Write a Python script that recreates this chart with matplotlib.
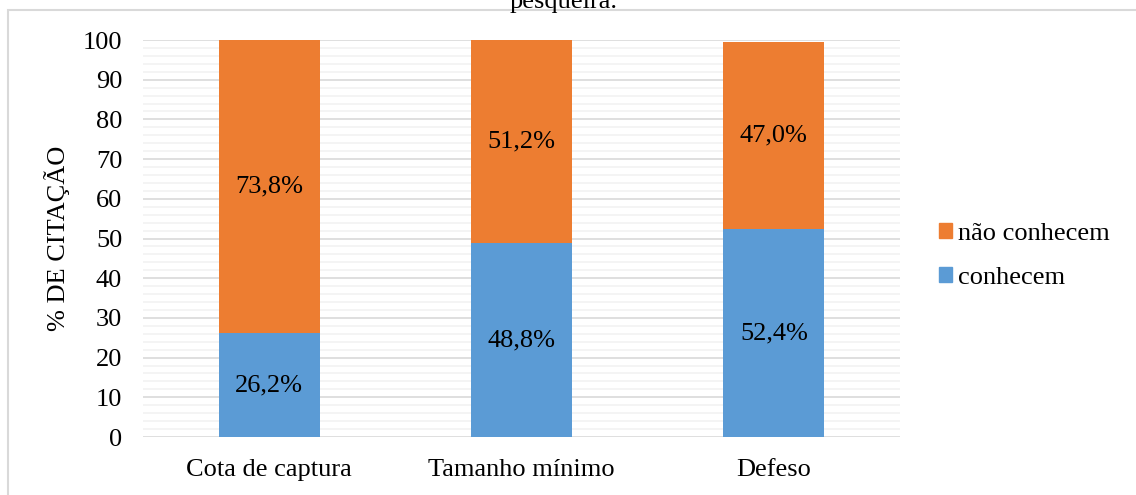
import matplotlib
matplotlib.use('Agg')
import matplotlib.pyplot as plt
from matplotlib.patches import Rectangle, Patch
import numpy as np

# dados do gráfico
categorias = ['Cota de captura', 'Tamanho mínimo', 'Defeso']
conhecem = [26.2, 48.8, 52.4]
nao_conhecem = [73.8, 51.2, 47.0]
rotulos_conhecem = ['26,2%', '48,8%', '52,4%']
rotulos_nao = ['73,8%', '51,2%', '47,0%']

azul = '#5b9bd5'
laranja = '#ed7d31'
fs = 19

plt.rcParams['font.family'] = ['Liberation Serif', 'DejaVu Serif']

fig = plt.figure(figsize=(11.36, 4.95), dpi=100)
ax = fig.add_axes([143 / 1136, 1 - 437 / 495, (900 - 143) / 1136, (437 - 40) / 495])

# moldura do gráfico
fig.patches.append(Rectangle((8 / 1136, -0.05), 1.2, 1 - 10 / 495 + 0.05,
                             transform=fig.transFigure, fill=False,
                             edgecolor='#d9d9d9', linewidth=1.5))
fig.text(564 / 1136, 1 - 8 / 495, 'pesqueira.', ha='center', va='baseline', fontsize=fs)

x = np.arange(len(categorias))
largura = 0.4
ax.bar(x, conhecem, largura, color=azul, label='conhecem', zorder=3)
ax.bar(x, nao_conhecem, largura, bottom=conhecem, color=laranja,
       label='não conhecem', zorder=3)

for i in range(len(categorias)):
    ax.text(x[i], conhecem[i] / 2, rotulos_conhecem[i], ha='center', va='center',
            fontsize=fs, zorder=4)
    ax.text(x[i], conhecem[i] + nao_conhecem[i] / 2, rotulos_nao[i], ha='center',
            va='center', fontsize=fs, zorder=4)

ax.set_xlim(-0.5, 2.5)
ax.set_ylim(0, 100)
ax.set_yticks(np.arange(0, 101, 10))
ax.set_yticks(np.arange(0, 101, 2), minor=True)
ax.grid(axis='y', which='major', color='#d9d9d9', linewidth=1.2, zorder=0)
ax.grid(axis='y', which='minor', color='#f2f2f2', linewidth=1.2, zorder=0)
ax.set_xticks(x)
ax.set_xticklabels(categorias)
ax.tick_params(axis='both', length=0, labelsize=fs)
ax.tick_params(axis='y', pad=15)
ax.tick_params(axis='x', pad=16)
ax.tick_params(axis='y', which='minor', length=0)
for s in ax.spines.values():
    s.set_visible(False)
ax.set_ylabel('% DE CITAÇÃO', fontsize=fs, labelpad=9)

handles = [Patch(color=laranja), Patch(color=azul)]
fig.legend(handles, ['não conhecem', 'conhecem'], loc='center left',
           bbox_to_anchor=(928 / 1136, 1 - 256 / 495), frameon=False,
           fontsize=fs, handlelength=0.5, handleheight=0.5, handletextpad=0.25,
           labelspacing=0.85, borderaxespad=0)

fig.savefig('out.png', dpi=100)
